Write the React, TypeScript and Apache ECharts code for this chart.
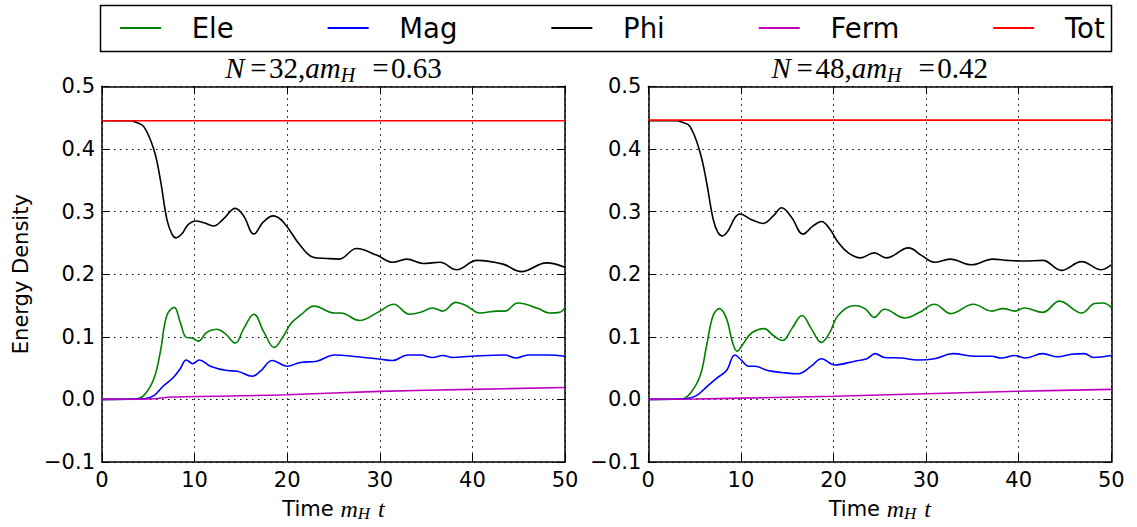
import React, { useEffect, useRef } from 'react';
import * as echarts from 'echarts';

const seriesNames = ['Ele', 'Mag', 'Phi', 'Ferm', 'Tot'];
const seriesColors = ['#008000', '#0000ff', '#000000', '#bf00bf', '#ff0000'];
const panelTitles = [
  { N: '32', m: '0.63' },
  { N: '48', m: '0.42' },
];

// Left panel (N=32)
const leftEle = [
  [0, 0], [3.5, 0.0005], [4.5, 0.006], [5.6, 0.033], [6.3, 0.076], [7.0, 0.134], [7.8, 0.147], [8.45, 0.123],
  [9.1, 0.099], [9.7, 0.098], [10.4, 0.093], [11.3, 0.107], [12.4, 0.112], [13.3, 0.105], [14.4, 0.09],
  [15.3, 0.113], [16.4, 0.136], [17.5, 0.107], [18.6, 0.083], [19.5, 0.099], [20.4, 0.121], [21.4, 0.134],
  [22.9, 0.149], [25.1, 0.138], [25.8, 0.138], [27.8, 0.126], [29.9, 0.14], [31.5, 0.152], [33.2, 0.136],
  [34.4, 0.139], [35.7, 0.146], [36.8, 0.141], [38.2, 0.155], [39.3, 0.15], [40.8, 0.138], [42.7, 0.141],
  [43.5, 0.141], [44.9, 0.154], [47.1, 0.145], [48.3, 0.138], [49.4, 0.139], [50, 0.147],
];
const leftMag = [
  [0, 0], [4.5, 0.001], [5.6, 0.006], [6.6, 0.021], [7.7, 0.035], [8.45, 0.049], [9.1, 0.063], [9.8, 0.057],
  [10.5, 0.063], [11.7, 0.053], [13.5, 0.046], [14.6, 0.045], [16.2, 0.037], [17.1, 0.045], [18.4, 0.062],
  [20.0, 0.053], [21.4, 0.059], [23.2, 0.061], [25.1, 0.071], [27.6, 0.068], [30.1, 0.064], [31.4, 0.062],
  [33.0, 0.071], [34.4, 0.071], [35.7, 0.067], [36.8, 0.07], [37.9, 0.067], [39.9, 0.069], [43.5, 0.071],
  [44.7, 0.066], [46.0, 0.071], [48.2, 0.071], [50, 0.069],
];
const leftPhi = [
  [0, 0.445], [3, 0.445], [3.6, 0.443], [4.5, 0.436], [5.6, 0.399], [6.3, 0.351], [7.0, 0.288], [7.55, 0.264],
  [8.0, 0.258], [8.6, 0.264], [9.3, 0.279], [10.1, 0.285], [11.0, 0.282], [12.05, 0.277], [13.1, 0.288],
  [14.4, 0.305], [15.3, 0.293], [16.4, 0.264], [17.4, 0.283], [18.5, 0.293], [19.6, 0.283], [21.4, 0.246],
  [22.8, 0.227], [24.3, 0.225], [25.6, 0.224], [27.5, 0.241], [29.7, 0.23], [31.4, 0.219], [32.9, 0.224],
  [34.7, 0.217], [36.5, 0.219], [38.3, 0.207], [40.5, 0.222], [43.3, 0.216], [45.3, 0.204], [48.0, 0.218],
  [50, 0.211],
];
const leftFerm = [[0, 0], [5, 0.0005], [7.7, 0.0037], [12, 0.005], [20, 0.0074], [30, 0.0128], [40, 0.016], [50, 0.019]];
const leftTot = [[0, 0.445], [50, 0.445]];

// Right panel (N=48)
const rightEle = [
  [0, 0], [3.5, 0.0005], [4.5, 0.009], [5.6, 0.038], [6.3, 0.086], [7.0, 0.134], [7.7, 0.145], [8.45, 0.129],
  [9.1, 0.091], [9.6, 0.077], [10.25, 0.089], [11.15, 0.106], [12.5, 0.113], [13.5, 0.102], [14.5, 0.094],
  [15.5, 0.113], [16.6, 0.134], [17.6, 0.113], [18.7, 0.091], [19.6, 0.107], [20.5, 0.134], [22.3, 0.15],
  [23.4, 0.145], [24.4, 0.131], [25.5, 0.144], [27.7, 0.13], [29.3, 0.139], [30.9, 0.152], [32.7, 0.137],
  [35.1, 0.152], [37.1, 0.141], [38.3, 0.145], [39.6, 0.141], [40.6, 0.146], [42.6, 0.139], [44.4, 0.157],
  [46.8, 0.138], [48.2, 0.153], [49.1, 0.154], [50, 0.147],
];
const rightMag = [
  [0, 0], [4, 0.001], [5.2, 0.006], [6.3, 0.02], [7.4, 0.034], [8.45, 0.046], [9.35, 0.071], [10.1, 0.062],
  [10.8, 0.053], [11.5, 0.053], [12.9, 0.046], [14.4, 0.043], [16.2, 0.041], [17.6, 0.053], [18.7, 0.065],
  [20.1, 0.055], [22.3, 0.061], [23.6, 0.065], [24.5, 0.073], [25.5, 0.067], [27.3, 0.066], [29.1, 0.063],
  [30.9, 0.065], [32.9, 0.073], [35.3, 0.069], [37.1, 0.069], [38.1, 0.066], [39.6, 0.07], [40.7, 0.066],
  [42.6, 0.073], [44.2, 0.068], [45.7, 0.072], [47.1, 0.073], [48.1, 0.067], [50, 0.07],
];
const rightPhi = [
  [0, 0.445], [3, 0.445], [3.6, 0.443], [4.5, 0.436], [5.6, 0.394], [6.3, 0.346], [7.0, 0.288], [7.5, 0.267],
  [8.0, 0.261], [8.6, 0.269], [9.35, 0.29], [9.9, 0.296], [11.15, 0.287], [12.4, 0.281], [13.5, 0.293],
  [14.4, 0.306], [15.5, 0.29], [16.7, 0.264], [17.8, 0.277], [18.7, 0.284], [19.6, 0.272], [20.5, 0.251],
  [21.6, 0.234], [22.9, 0.226], [24.4, 0.234], [25.7, 0.226], [28.1, 0.242], [29.5, 0.23], [30.9, 0.219],
  [32.6, 0.224], [34.9, 0.215], [37.2, 0.224], [38.8, 0.222], [40.6, 0.221], [42.6, 0.222], [44.6, 0.206],
  [46.8, 0.22], [48.9, 0.207], [50, 0.215],
];
const rightFerm = [[0, 0], [5, 0.0005], [10, 0.002], [20, 0.005], [30, 0.009], [40, 0.013], [50, 0.016]];
const rightTot = [[0, 0.446], [50, 0.446]];

const panelData = [
  [leftEle, leftMag, leftPhi, leftFerm, leftTot],
  [rightEle, rightMag, rightPhi, rightFerm, rightTot],
];

const X_MIN = 0, X_MAX = 50, X_STEP = 10;
const Y_MIN = -0.1, Y_MAX = 0.5, Y_STEP = 0.1;

const SANS = 'DejaVu Sans';
const SERIF = 'Liberation Serif';

const yFmt = (v: number) => {
  const s = Math.abs(v).toFixed(1);
  return v < -1e-9 ? '\u2212' + s : s;
};

export default function App() {
  const ref = useRef<HTMLDivElement>(null);
  useEffect(() => {
    const chart = echarts.init(ref.current!, null, { renderer: 'svg' });
    const grids = [
      { left: 102, top: 86.3, width: 463, height: 378 },
      { left: 648.3, top: 86.3, width: 463, height: 378 },
    ];
    const axisLine = { show: true, onZero: false, lineStyle: { color: '#000', width: 1.5 } };
    const axisTick = { show: true, inside: true, length: 8, lineStyle: { color: '#000', width: 1 } };
    const gridLine = { show: true, lineStyle: { color: '#000', width: 1, type: [1.5, 4.5] } };
    const xAxes: any[] = [];
    const yAxes: any[] = [];
    grids.forEach((_, gi) => {
      xAxes.push({
        type: 'value', gridIndex: gi, min: X_MIN, max: X_MAX, interval: X_STEP, position: 'bottom',
        axisLine, axisTick,
        axisLabel: { color: '#000', fontSize: 21, fontFamily: SANS, margin: 7 },
        splitLine: gridLine,
        name: '{t|Time }{i|m}{s|H}{i| t}',
        nameLocation: 'middle', nameGap: 33,
        nameTextStyle: {
          rich: {
            t: { fontFamily: SANS, fontSize: 21, color: '#000' },
            i: { fontFamily: SERIF, fontStyle: 'italic', fontSize: 24, color: '#000' },
            s: { fontFamily: SERIF, fontStyle: 'italic', fontSize: 17, color: '#000', padding: [10, 2, 0, 0] },
          },
        },
      });
      xAxes.push({
        type: 'value', gridIndex: gi, min: X_MIN, max: X_MAX, interval: X_STEP, position: 'top',
        axisLine, axisTick, axisLabel: { show: false }, splitLine: { show: false },
      });
      yAxes.push({
        type: 'value', gridIndex: gi, min: Y_MIN, max: Y_MAX, interval: Y_STEP, position: 'left',
        axisLine, axisTick,
        axisLabel: { color: '#000', fontSize: 21, fontFamily: SANS, margin: 7, formatter: yFmt },
        splitLine: gridLine,
        name: gi === 0 ? 'Energy Density' : '',
        nameLocation: 'middle', nameGap: 71,
        nameTextStyle: { fontFamily: SANS, fontSize: 21, color: '#000' },
      });
      yAxes.push({
        type: 'value', gridIndex: gi, min: Y_MIN, max: Y_MAX, interval: Y_STEP, position: 'right',
        axisLine, axisTick, axisLabel: { show: false }, splitLine: { show: false },
      });
    });

    const series: any[] = [];
    panelData.forEach((sets, gi) => {
      sets.forEach((data, k) => {
        series.push({
          type: 'line', name: seriesNames[k], xAxisIndex: gi * 2, yAxisIndex: gi * 2,
          data, showSymbol: false, smooth: 0.4, z: 2 + k,
          lineStyle: { color: seriesColors[k], width: 1.6 },
          itemStyle: { color: seriesColors[k] },
        });
      });
    });

    const titleRich = {
      i: { fontFamily: SERIF, fontStyle: 'italic', fontSize: 29, fill: '#000' },
      r: { fontFamily: SERIF, fontSize: 29, fill: '#000' },
      s: { fontFamily: SERIF, fontStyle: 'italic', fontSize: 20, fill: '#000', padding: [13, 4, 0, 0] },
    };
    const graphics: any[] = [
      {
        type: 'rect', shape: { x: 100.5, y: 5.5, width: 1011, height: 46 },
        style: { fill: '#fff', stroke: '#000', lineWidth: 1.5 }, z: 0,
      },
    ];
    panelTitles.forEach((t, gi) => {
      graphics.push({
        type: 'text', x: grids[gi].left + grids[gi].width / 2, y: 68,
        style: {
          text: `{i|N}{r|\u2009=\u200a${t.N},}{i|am}{s|H}{r| \u2009=\u200a${t.m}}`,
          rich: titleRich, align: 'center', verticalAlign: 'middle',
        },
      });
    });

    chart.setOption({
      animation: false,
      backgroundColor: '#fff',
      grid: grids,
      xAxis: xAxes,
      yAxis: yAxes,
      legend: {
        data: seriesNames, left: 120, top: 14, padding: 0, selectedMode: false,
        icon: 'rect', itemWidth: 41, itemHeight: 2, itemGap: 94, z: 10,
        textStyle: { fontFamily: SANS, fontSize: 27.5, color: '#000', lineHeight: 28, padding: [0, 0, 0, 25.7] },
      },
      graphic: graphics,
      series,
    });
    return () => chart.dispose();
  }, []);
  return (
    <div
      ref={ref}
      style={{ position: 'fixed', left: 0, top: 0, width: 1137, height: 527, background: '#fff' }}
    />
  );
}
